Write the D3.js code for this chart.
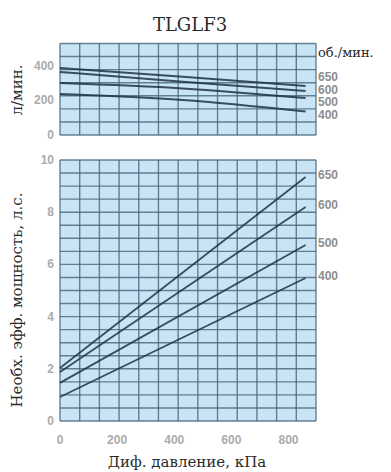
<!DOCTYPE html>
<html>
<head>
<meta charset="utf-8">
<script src="https://cdn.jsdelivr.net/npm/d3@7"></script>
<style>
  html, body { margin: 0; padding: 0; background: #fff; }
  svg { display: block; }
  .ttl { font-family: "DejaVu Serif", serif; fill: #2a2a2a; }
  .tick-lbl { font-family: "Liberation Sans Narrow", "Liberation Sans", sans-serif; font-weight: bold; fill: #ababab; }
</style>
</head>
<body>
<div id="chart"></div>
<script>
// TLGLF3 pump curves: flow (top) and required power (bottom) vs differential pressure
const speeds = ['650', '600', '500', '400'];          // об./мин.
const pressureKpa = [0, 430, 860];                     // x points for flow lines
const flow650 = [388, 338, 284];
const flow600 = [365, 309, 255];
const flow500 = [301, 270, 214];
const flow400 = [237, 203, 136];
const powerPressure = [0, 860];                        // x points for power lines
const power650 = [2.03, 9.35];
const power600 = [1.88, 8.2];
const power500 = [1.46, 6.74];
const power400 = [0.92, 5.48];

const xTicks = [0, 200, 400, 600, 800];
const flowTicks = [0, 200, 400];
const powerTicks = [0, 2, 4, 6, 8, 10];

// grid built from psi / gpm of the original sheet
const PSI = 68.95, GPM = 75.7;

const W = 391, H = 472;
const svg = d3.select('#chart').append('svg').attr('width', W).attr('height', H);

const x = d3.scaleLinear().domain([0, 13 * PSI]).range([60, 316]);
const yTop = d3.scaleLinear().domain([0, 7 * GPM]).range([135, 43.5]);
const yBot = d3.scaleLinear().domain([0, 10]).range([421, 160]);

const gridColor = '#46657a';
const lineColor = '#1f3342';

function panel(y, hStep, hMax) {
  const g = svg.append('g');
  g.append('rect')
    .attr('x', x.range()[0]).attr('y', y.range()[1])
    .attr('width', x.range()[1] - x.range()[0])
    .attr('height', y.range()[0] - y.range()[1])
    .attr('fill', '#c9e4f5');
  const vLines = d3.range(0, 14).map(i => i * PSI);
  g.selectAll('.v').data(vLines).join('line')
    .attr('x1', d => x(d)).attr('x2', d => x(d))
    .attr('y1', y.range()[1]).attr('y2', y.range()[0])
    .attr('stroke', gridColor).attr('stroke-width', 1.4).attr('stroke-opacity', 0.8);
  const hLines = d3.range(0, Math.round(hMax / hStep) + 1).map(i => i * hStep);
  g.selectAll('.h').data(hLines).join('line')
    .attr('x1', x.range()[0]).attr('x2', x.range()[1])
    .attr('y1', d => y(d)).attr('y2', d => y(d))
    .attr('stroke', gridColor).attr('stroke-width', 1.4).attr('stroke-opacity', 0.8);
  return g;
}

panel(yTop, GPM, 7 * GPM);
panel(yBot, 0.5, 10);

// flow lines
const flowSeries = [flow650, flow600, flow500, flow400];
const lineTop = d3.line().x((d, i) => x(pressureKpa[i])).y(d => yTop(d)).curve(d3.curveMonotoneX);
flowSeries.forEach(s => {
  svg.append('path').datum(s).attr('d', lineTop)
    .attr('fill', 'none').attr('stroke', lineColor).attr('stroke-width', 2).attr('stroke-opacity', 0.85);
});

// power lines
const powerSeries = [power650, power600, power500, power400];
const lineBot = d3.line().x((d, i) => x(powerPressure[i])).y(d => yBot(d));
powerSeries.forEach(s => {
  svg.append('path').datum(s).attr('d', lineBot)
    .attr('fill', 'none').attr('stroke', lineColor).attr('stroke-width', 1.8).attr('stroke-opacity', 0.85);
});

// tick labels
svg.selectAll('.ft').data(flowTicks).join('text').attr('class', 'tick-lbl')
  .attr('x', 54).attr('y', d => yTop(d) + 4).attr('text-anchor', 'end')
  .attr('font-size', 12).text(d => d);
svg.selectAll('.pt').data(powerTicks).join('text').attr('class', 'tick-lbl')
  .attr('x', 54).attr('y', d => yBot(d) + 4).attr('text-anchor', 'end')
  .attr('font-size', 12).text(d => d);
svg.selectAll('.xt').data(xTicks).join('text').attr('class', 'tick-lbl')
  .attr('x', d => x(d)).attr('y', 444).attr('text-anchor', 'middle')
  .attr('font-size', 12).text(d => d);

// speed labels at right
svg.selectAll('.sb').data(powerSeries).join('text').attr('class', 'tick-lbl')
  .attr('x', 318).attr('y', d => yBot(d[d.length - 1]) + 2)
  .attr('font-size', 12).style('fill', '#8e8e8e').text((d, i) => speeds[i]);
svg.selectAll('.st').data(speeds).join('text').attr('class', 'tick-lbl')
  .attr('x', 318).attr('y', (d, i) => 81 + i * 12.7)
  .attr('font-size', 12).style('fill', '#8e8e8e').text(d => d);

// titles
svg.append('text').attr('class', 'ttl').attr('x', 190).attr('y', 31)
  .attr('text-anchor', 'middle').attr('font-size', 18).text('TLGLF3');
svg.append('text').attr('class', 'ttl').attr('x', 318).attr('y', 57)
  .attr('font-size', 13).text('об./мин.');
svg.append('text').attr('class', 'ttl').attr('x', 187).attr('y', 467)
  .attr('text-anchor', 'middle').attr('font-size', 15).text('Диф. давление, кПа');
svg.append('text').attr('class', 'ttl')
  .attr('transform', 'translate(22,90) rotate(-90)')
  .attr('text-anchor', 'middle').attr('font-size', 15).text('л/мин.');
svg.append('text').attr('class', 'ttl')
  .attr('transform', 'translate(22,300) rotate(-90)')
  .attr('text-anchor', 'middle').attr('font-size', 15).text('Необх. эфф. мощность, л.с.');
</script>
</body>
</html>
